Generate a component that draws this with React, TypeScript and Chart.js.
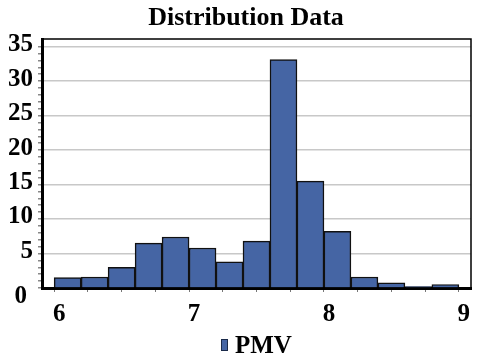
import React, { useEffect, useRef } from "react";
import { Chart, registerables } from "chart.js";

Chart.register(...registerables);

const binCenters = [6.1, 6.3, 6.5, 6.7, 6.9, 7.1, 7.3, 7.5, 7.7, 7.9, 8.1, 8.3, 8.5, 8.7, 8.9];
const counts = [1.5, 1.6, 3.0, 6.5, 7.4, 5.8, 3.8, 6.8, 33.1, 15.5, 8.2, 1.6, 0.75, 0.2, 0.5];
const xTickValues = [6, 6.25, 6.5, 6.75, 7, 7.25, 7.5, 7.75, 8, 8.25, 8.5, 8.75, 9];
const xLabelValues = [6, 7, 8, 9];
const yLabelValues = [5, 10, 15, 20, 25, 30, 35];
const yZeroLabel = "0";
const seriesName = "PMV";
const titleText = "Distribution Data";

const FONT = "'Liberation Serif', 'Times New Roman', serif";
const BAR_COLOR = "#4565A4";

export default function App() {
  const ref = useRef<HTMLCanvasElement | null>(null);
  useEffect(() => {
    if (!ref.current) return;
    const frame = {
      id: "frame",
      beforeDatasetsDraw(chart: any) {
        const { ctx, chartArea: a } = chart;
        ctx.save();
        ctx.strokeStyle = "#000";
        ctx.lineWidth = 1.5;
        ctx.beginPath();
        ctx.moveTo(a.left, a.top);
        ctx.lineTo(a.right, a.top);
        ctx.lineTo(a.right, a.bottom);
        ctx.stroke();
        ctx.restore();
      },
      afterDraw(chart: any) {
        const { ctx, chartArea: a } = chart;
        ctx.save();
        ctx.fillStyle = "#000";
        ctx.font = `bold 26px ${FONT}`;
        ctx.textAlign = "center";
        ctx.textBaseline = "alphabetic";
        ctx.fillText(titleText, 246, 25);
        // zero label of y axis, drawn just below the axis corner
        ctx.font = `bold 25px ${FONT}`;
        ctx.textAlign = "right";
        ctx.textBaseline = "middle";
        ctx.fillText(yZeroLabel, a.left - 15, a.bottom + 9);
        // legend
        const ds = chart.data.datasets[0];
        ctx.fillStyle = ds.backgroundColor;
        ctx.fillRect(221, 339, 6, 11);
        ctx.strokeStyle = "#1a2a4a";
        ctx.lineWidth = 1;
        ctx.strokeRect(221.5, 339.5, 6, 11);
        ctx.fillStyle = "#000";
        ctx.textAlign = "left";
        ctx.textBaseline = "alphabetic";
        ctx.fillText(ds.label, 235, 353);
        ctx.restore();
      },
    };
    const chart = new Chart(ref.current, {
      type: "bar",
      data: {
        datasets: [
          {
            label: seriesName,
            data: binCenters.map((x, i) => ({ x, y: counts[i] })),
            backgroundColor: BAR_COLOR,
            borderColor: "#111",
            borderWidth: 1.5,
            barPercentage: 1,
            categoryPercentage: 1,
          },
        ],
      },
      options: {
        animation: false,
        responsive: true,
        maintainAspectRatio: false,
        layout: { padding: { left: 0, right: 9, top: 39, bottom: 33 } },
        plugins: {
          title: { display: false },
          legend: { display: false },
          tooltip: { enabled: false },
        },
        scales: {
          x: {
            type: "linear",
            min: 5.91,
            max: 9.09,
            offset: false,
            afterBuildTicks: (scale: any) => {
              scale.ticks = xTickValues.map((v) => ({ value: v }));
            },
            afterFit: (scale: any) => {
              scale.height = 40;
            },
            ticks: {
              autoSkip: false,
              maxRotation: 0,
              color: "#000",
              labelOffset: 5,
              padding: 8,
              font: { family: FONT, size: 25, weight: "bold" },
              callback: (v: any) => (xLabelValues.includes(Number(v)) ? String(v) : ""),
            },
            grid: {
              offset: false,
              drawOnChartArea: false,
              drawTicks: true,
              tickLength: 4,
              tickColor: "#777",
            },
            border: { color: "#000", width: 3 },
          },
          y: {
            min: 0,
            max: 36.1,
            afterBuildTicks: (scale: any) => {
              const t: any[] = [];
              for (let i = 0; i <= 35; i++) t.push({ value: i });
              scale.ticks = t;
            },
            afterFit: (scale: any) => {
              scale.width = 42;
            },
            ticks: {
              autoSkip: false,
              color: "#000",
              padding: 5,
              labelOffset: -2,
              font: { family: FONT, size: 25, weight: "bold" },
              callback: (v: any) => (yLabelValues.includes(Number(v)) ? String(v) : ""),
            },
            grid: {
              color: (c: any) =>
                c.tick && c.tick.value > 0 && c.tick.value % 5 === 0 ? "#c8c8c8" : "rgba(0,0,0,0)",
              lineWidth: 1.5,
              drawTicks: true,
              tickLength: 4,
              tickColor: "#888",
            },
            border: { color: "#000", width: 3 },
          },
        },
      },
      plugins: [frame],
    });
    return () => chart.destroy();
  }, []);
  return (
    <div style={{ position: "absolute", left: 0, top: 0, width: 480, height: 361, background: "#fff" }}>
      <canvas ref={ref} />
    </div>
  );
}
